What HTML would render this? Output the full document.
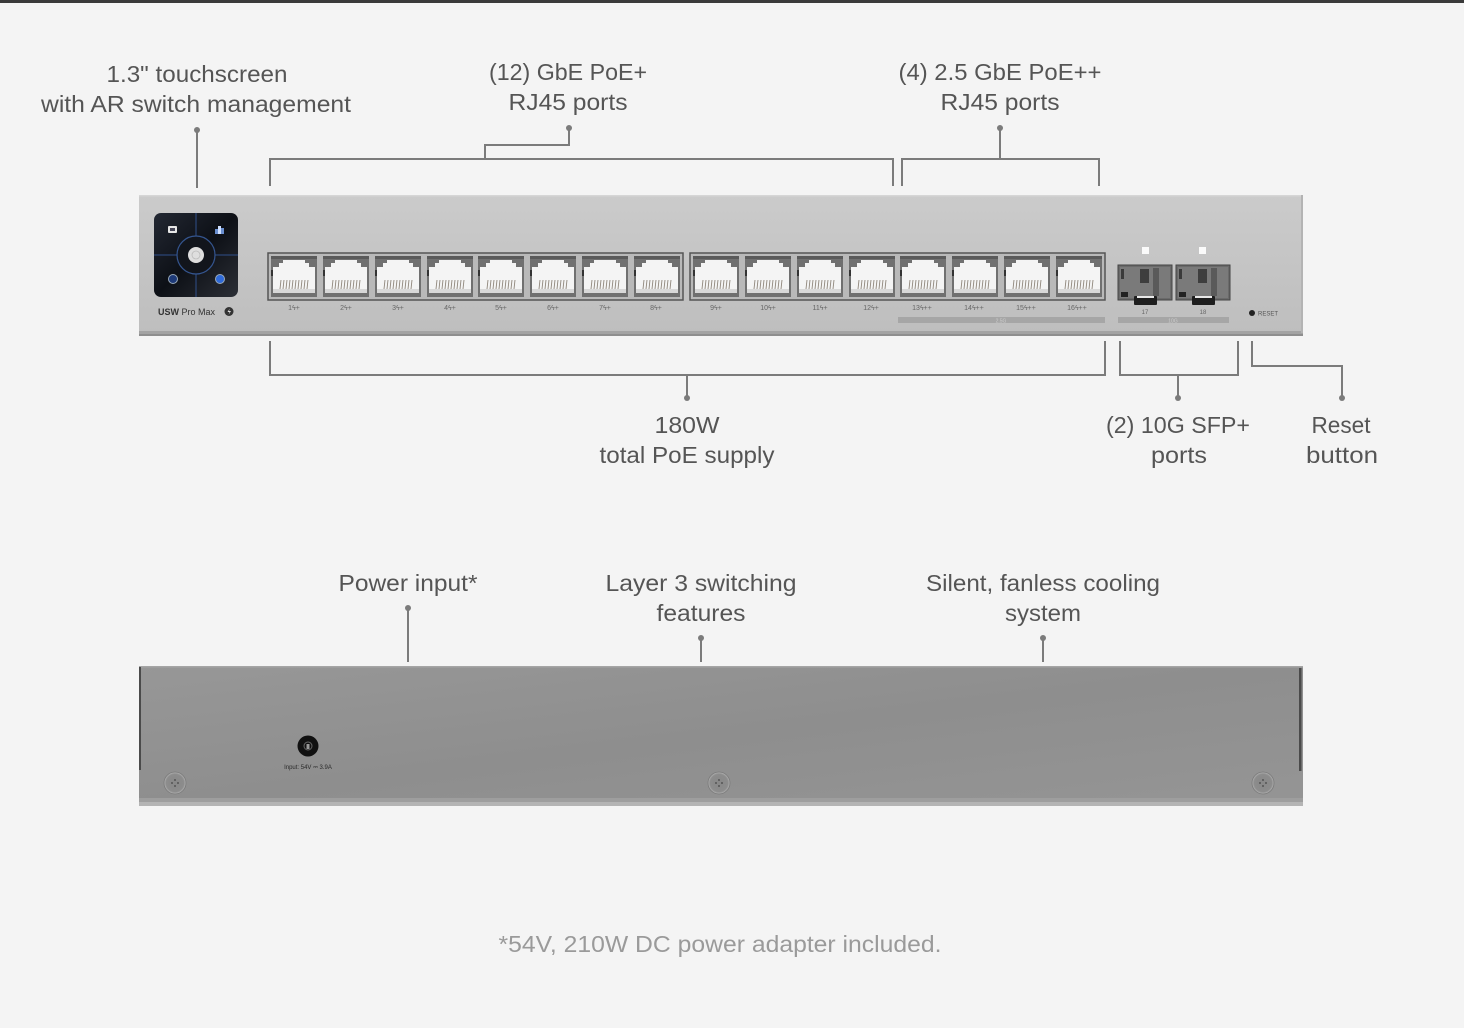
<!DOCTYPE html>
<html>
<head>
<meta charset="utf-8">
<style>
  html,body{margin:0;padding:0;background:#f4f4f4;}
  body{width:1464px;height:1028px;overflow:hidden;}
  svg{display:block;}
  .lbl{font-family:"Liberation Sans",sans-serif;font-size:23px;fill:#555;}
  .pl{font-family:"Liberation Sans","DejaVu Sans",sans-serif;font-size:7px;fill:#666;}
</style>
</head>
<body>
<svg width="1464" height="1028" viewBox="0 0 1464 1028" xmlns="http://www.w3.org/2000/svg">
  <defs>
    <linearGradient id="front" x1="0" y1="0" x2="0" y2="1">
      <stop offset="0" stop-color="#cbcbcb"/>
      <stop offset="1" stop-color="#bebebe"/>
    </linearGradient>
    <linearGradient id="back" x1="0" y1="0" x2="1" y2="1">
      <stop offset="0" stop-color="#979797"/>
      <stop offset="0.5" stop-color="#8e8e8e"/>
      <stop offset="1" stop-color="#959595"/>
    </linearGradient>
    <linearGradient id="screen" x1="0" y1="0" x2="1" y2="1">
      <stop offset="0" stop-color="#232833"/>
      <stop offset="0.5" stop-color="#0d1016"/>
      <stop offset="1" stop-color="#2c2f36"/>
    </linearGradient>
    <radialGradient id="screw" cx="0.5" cy="0.5" r="0.5">
      <stop offset="0" stop-color="#888"/>
      <stop offset="0.8" stop-color="#8c8c8c"/>
      <stop offset="1" stop-color="#b5b5b5"/>
    </radialGradient>
    <g id="port">
      <rect x="3" y="3" width="46" height="41" fill="#707070"/>
      <rect x="3" y="3" width="46" height="3" fill="#5a5a5a"/>
      <polygon points="15,7 37,7 37,10 41,10 41,14 47,14 47,40 5,40 5,14 11,14 11,10 15,10" fill="#f4f4f4"/>
      <rect x="5" y="36" width="42" height="4" fill="#d8d8d8"/>
      <g stroke="#8e857a" stroke-width="0.9">
        <line x1="13" y1="27" x2="12" y2="36"/>
        <line x1="16" y1="27" x2="15" y2="36"/>
        <line x1="19" y1="27" x2="18" y2="36"/>
        <line x1="22" y1="27" x2="21" y2="36"/>
        <line x1="25" y1="27" x2="24" y2="36"/>
        <line x1="28" y1="27" x2="27" y2="36"/>
        <line x1="31" y1="27" x2="30" y2="36"/>
        <line x1="34" y1="27" x2="33" y2="36"/>
        <line x1="37" y1="27" x2="36" y2="36"/>
        <line x1="40" y1="27" x2="39" y2="36"/>
      </g>
      <rect x="3" y="17" width="2" height="6" fill="#333"/>
    </g>
    <g id="sfp">
      <rect x="0" y="0" width="54" height="35" fill="#6a6a6a" stroke="#444" stroke-width="1"/>
      <rect x="2" y="2" width="50" height="31" fill="#7a7a7a"/>
      <rect x="22" y="4" width="9" height="14" fill="#3e3e3e"/>
      <rect x="35" y="3" width="6" height="28" fill="#5a5a5a"/>
      <rect x="3" y="4" width="3" height="10" fill="#3a3a3a"/>
      <rect x="3" y="27" width="7" height="5" fill="#222"/>
      <rect x="16" y="31" width="23" height="9" rx="1" fill="#1e1e1e"/>
      <rect x="19" y="31" width="17" height="2" fill="#e8e8e8"/>
    </g>
  </defs>

  <!-- top dark bar -->
  <rect x="0" y="0" width="1464" height="3" fill="#3a3a3a"/>

  <!-- ========== FRONT PANEL ========== -->
  <rect x="139" y="195" width="1164" height="141" fill="url(#front)"/>
  <rect x="139" y="195" width="1164" height="1.5" fill="#d6d6d6"/>
  <rect x="139" y="331" width="1164" height="3" fill="#a3a3a3"/>
  <rect x="139" y="334" width="1164" height="2" fill="#8e8e8e"/>
  <rect x="1301" y="195" width="2" height="138" fill="#b3b3b3"/>

  <!-- touchscreen -->
  <rect x="154" y="213" width="84" height="84" rx="7" fill="url(#screen)"/>
  <g stroke="#2f4f8a" stroke-width="1">
    <line x1="196" y1="213" x2="196" y2="297"/>
    <line x1="154" y1="255" x2="238" y2="255"/>
  </g>
  <circle cx="196" cy="255" r="19" fill="#12151c" stroke="#34558f" stroke-width="1.2"/>
  <circle cx="196" cy="255" r="8" fill="#dedede"/>
  <circle cx="196" cy="255" r="4" fill="none" stroke="#bbb" stroke-width="0.8"/>
  <rect x="168" y="226" width="9" height="7" rx="1" fill="#e6e6e6"/>
  <rect x="170" y="228" width="5" height="3" fill="#445"/>
  <rect x="215" y="229" width="3" height="5" fill="#6a8fd0"/>
  <rect x="218" y="226" width="3" height="8" fill="#cfe0ff"/>
  <rect x="221" y="228" width="3" height="6" fill="#6a8fd0"/>
  <circle cx="173" cy="279" r="4.5" fill="#1e3a78" stroke="#9ab" stroke-width="1"/>
  <circle cx="220" cy="279" r="4.5" fill="#2f6ad8" stroke="#9ab" stroke-width="1"/>
  <text x="158" y="315" font-family="Liberation Sans,sans-serif" font-size="9" fill="#333"><tspan font-weight="bold">USW</tspan> Pro Max</text>
  <circle cx="229" cy="311.5" r="4.5" fill="#333"/>
  <path d="M229.8 308.5 L227.5 312 L229.5 312 L228.6 314.8 L231 311 L229 311 Z" fill="#ddd"/>

  <!-- port group 1 -->
  <rect x="268" y="253" width="415" height="47" fill="#b9b9b9" stroke="#555" stroke-width="1.5"/>
  <use href="#port" x="268" y="253"/>
  <use href="#port" x="320" y="253"/>
  <use href="#port" x="372" y="253"/>
  <use href="#port" x="424" y="253"/>
  <use href="#port" x="475" y="253"/>
  <use href="#port" x="527" y="253"/>
  <use href="#port" x="579" y="253"/>
  <use href="#port" x="631" y="253"/>
  <!-- port group 2 -->
  <rect x="690" y="253" width="415" height="47" fill="#b9b9b9" stroke="#555" stroke-width="1.5"/>
  <use href="#port" x="690" y="253"/>
  <use href="#port" x="742" y="253"/>
  <use href="#port" x="794" y="253"/>
  <use href="#port" x="846" y="253"/>
  <use href="#port" x="897" y="253"/>
  <use href="#port" x="949" y="253"/>
  <use href="#port" x="1001" y="253"/>
  <use href="#port" x="1053" y="253"/>

  <!-- port labels -->
  <g class="pl" text-anchor="middle">
    <text x="294" y="310">1ϟ+</text>
    <text x="346" y="310">2ϟ+</text>
    <text x="398" y="310">3ϟ+</text>
    <text x="450" y="310">4ϟ+</text>
    <text x="501" y="310">5ϟ+</text>
    <text x="553" y="310">6ϟ+</text>
    <text x="605" y="310">7ϟ+</text>
    <text x="656" y="310">8ϟ+</text>
    <text x="716" y="310">9ϟ+</text>
    <text x="768" y="310">10ϟ+</text>
    <text x="820" y="310">11ϟ+</text>
    <text x="871" y="310">12ϟ+</text>
    <text x="922" y="310">13ϟ++</text>
    <text x="974" y="310">14ϟ++</text>
    <text x="1026" y="310">15ϟ++</text>
    <text x="1077" y="310">16ϟ++</text>
  </g>
  <rect x="898" y="317" width="207" height="6" fill="#a6a6a6"/>
  <text x="1001" y="322.5" font-family="Liberation Sans,sans-serif" font-size="5" fill="#ccc" text-anchor="middle">2.5G</text>

  <!-- SFP -->
  <rect x="1142" y="247" width="7" height="7" fill="#fafafa"/>
  <rect x="1199" y="247" width="7" height="7" fill="#fafafa"/>
  <use href="#sfp" x="1118" y="265"/>
  <use href="#sfp" x="1176" y="265"/>
  <text x="1145" y="314" font-family="Liberation Sans,sans-serif" font-size="6" fill="#666" text-anchor="middle">17</text>
  <text x="1203" y="314" font-family="Liberation Sans,sans-serif" font-size="6" fill="#666" text-anchor="middle">18</text>
  <rect x="1118" y="317" width="111" height="6" fill="#a6a6a6"/>
  <text x="1173" y="322.5" font-family="Liberation Sans,sans-serif" font-size="5" fill="#ccc" text-anchor="middle">10G</text>
  <circle cx="1252" cy="313" r="3" fill="#222"/>
  <text x="1258" y="315.5" font-family="Liberation Sans,sans-serif" font-size="6" fill="#555">RESET</text>

  <!-- ========== CONNECTORS (top) ========== -->
  <g stroke="#7b7b7b" stroke-width="2" fill="none">
    <line x1="197" y1="130" x2="197" y2="188"/>
    <polyline points="270,186 270,159 893,159 893,186"/>
    <polyline points="485,159 485,145 569,145 569,129"/>
    <polyline points="902,186 902,159 1099,159 1099,186"/>
    <line x1="1000" y1="159" x2="1000" y2="129"/>
    <!-- bottom brackets -->
    <polyline points="270,341 270,375 1105,375 1105,341"/>
    <line x1="687" y1="375" x2="687" y2="397"/>
    <polyline points="1120,341 1120,375 1238,375 1238,341"/>
    <line x1="1178" y1="375" x2="1178" y2="397"/>
    <polyline points="1252,341 1252,366 1342,366 1342,397"/>
    <!-- back connectors -->
    <line x1="408" y1="609" x2="408" y2="662"/>
    <line x1="701" y1="639" x2="701" y2="662"/>
    <line x1="1043" y1="639" x2="1043" y2="662"/>
  </g>
  <g fill="#7b7b7b">
    <circle cx="197" cy="130" r="3"/>
    <circle cx="569" cy="128" r="3"/>
    <circle cx="1000" cy="128" r="3"/>
    <circle cx="687" cy="398" r="3"/>
    <circle cx="1178" cy="398" r="3"/>
    <circle cx="1342" cy="398" r="3"/>
    <circle cx="408" cy="608" r="3"/>
    <circle cx="701" cy="638" r="3"/>
    <circle cx="1043" cy="638" r="3"/>
  </g>

  <!-- ========== LABELS ========== -->
  <g class="lbl" text-anchor="middle">
    <text x="197" y="82" textLength="181" lengthAdjust="spacingAndGlyphs">1.3" touchscreen</text>
    <text x="196" y="112" textLength="310" lengthAdjust="spacingAndGlyphs">with AR switch management</text>
    <text x="568" y="80" textLength="158" lengthAdjust="spacingAndGlyphs">(12) GbE PoE+</text>
    <text x="568" y="110" textLength="119" lengthAdjust="spacingAndGlyphs">RJ45 ports</text>
    <text x="1000" y="80" textLength="203" lengthAdjust="spacingAndGlyphs">(4) 2.5 GbE PoE++</text>
    <text x="1000" y="110" textLength="119" lengthAdjust="spacingAndGlyphs">RJ45 ports</text>
    <text x="687" y="433" textLength="65" lengthAdjust="spacingAndGlyphs">180W</text>
    <text x="687" y="463" textLength="175" lengthAdjust="spacingAndGlyphs">total PoE supply</text>
    <text x="1178" y="433" textLength="144" lengthAdjust="spacingAndGlyphs">(2) 10G SFP+</text>
    <text x="1179" y="463" textLength="56" lengthAdjust="spacingAndGlyphs">ports</text>
    <text x="1341" y="433" textLength="59" lengthAdjust="spacingAndGlyphs">Reset</text>
    <text x="1342" y="463" textLength="72" lengthAdjust="spacingAndGlyphs">button</text>
    <text x="408" y="591" textLength="139" lengthAdjust="spacingAndGlyphs">Power input*</text>
    <text x="701" y="591" textLength="191" lengthAdjust="spacingAndGlyphs">Layer 3 switching</text>
    <text x="701" y="621" textLength="89" lengthAdjust="spacingAndGlyphs">features</text>
    <text x="1043" y="591" textLength="234" lengthAdjust="spacingAndGlyphs">Silent, fanless cooling</text>
    <text x="1043" y="621" textLength="76" lengthAdjust="spacingAndGlyphs">system</text>
  </g>

  <!-- ========== BACK PANEL ========== -->
  <rect x="139" y="666" width="1164" height="140" fill="url(#back)"/>
  <rect x="139" y="666" width="1164" height="1.5" fill="#a5a5a5"/>
  <rect x="139" y="798" width="1164" height="4" fill="#9e9e9e"/>
  <rect x="139" y="802" width="1164" height="4" fill="#b4b4b4"/>
  <rect x="139" y="667" width="2" height="103" fill="#4a4a4a"/>
  <rect x="1299" y="668" width="2.5" height="103" fill="#4a4a4a"/>
  <!-- power jack -->
  <circle cx="308" cy="746" r="10.5" fill="#111"/>
  <circle cx="308" cy="746" r="4" fill="none" stroke="#666" stroke-width="1"/>
  <rect x="306.5" y="744" width="3" height="5" fill="#999"/>
  <text x="308" y="769" font-family="Liberation Sans,sans-serif" font-size="6" fill="#2a2a2a" text-anchor="middle">Input: 54V ⎓ 3.9A</text>
  <!-- screws -->
  <g>
    <circle cx="175" cy="783" r="11" fill="url(#screw)" stroke="#7a7a7a" stroke-width="0.8"/>
    <circle cx="719" cy="783" r="11" fill="url(#screw)" stroke="#7a7a7a" stroke-width="0.8"/>
    <circle cx="1263" cy="783" r="11" fill="url(#screw)" stroke="#7a7a7a" stroke-width="0.8"/>
  </g>
  <g fill="#555">
    <circle cx="175" cy="780" r="1"/><circle cx="175" cy="786" r="1"/><circle cx="172" cy="783" r="1"/><circle cx="178" cy="783" r="1"/>
    <circle cx="719" cy="780" r="1"/><circle cx="719" cy="786" r="1"/><circle cx="716" cy="783" r="1"/><circle cx="722" cy="783" r="1"/>
    <circle cx="1263" cy="780" r="1"/><circle cx="1263" cy="786" r="1"/><circle cx="1260" cy="783" r="1"/><circle cx="1266" cy="783" r="1"/>
  </g>

  <!-- footnote -->
  <text x="720" y="952" font-family="Liberation Sans,sans-serif" font-size="23" fill="#9a9a9a" text-anchor="middle" textLength="443" lengthAdjust="spacingAndGlyphs">*54V, 210W DC power adapter included.</text>
</svg>
</body>
</html>
